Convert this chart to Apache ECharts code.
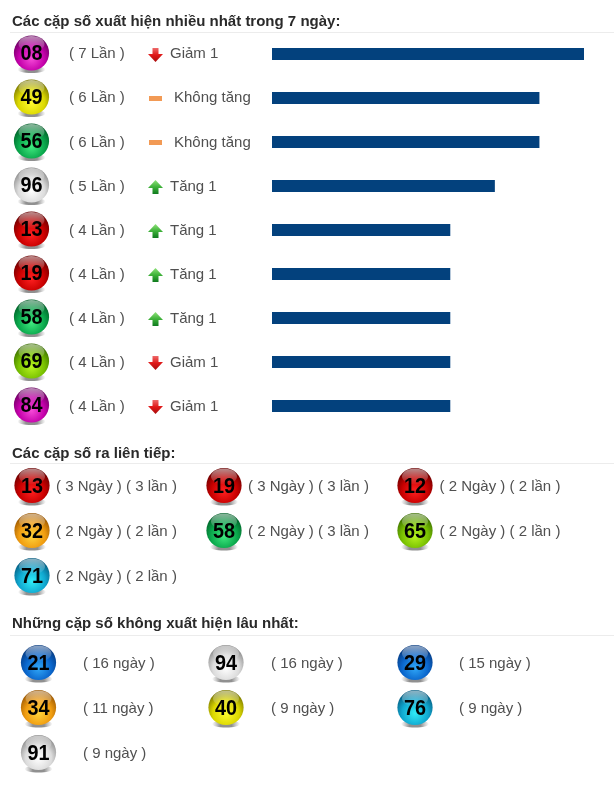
<!DOCTYPE html>
<html>
<head>
<meta charset="utf-8">
<style>html,body{margin:0;padding:0;background:#fff}#c{width:614px;height:787px}</style>
<script src="https://cdn.jsdelivr.net/npm/echarts@6/dist/echarts.min.js"></script>
</head>
<body>
<div id="c"></div>
<script>
// ---- data ----
const headings = ['Các cặp số xuất hiện nhiều nhất trong 7 ngày:', 'Các cặp số ra liên tiếp:', 'Những cặp số không xuất hiện lâu nhất:'];
const topNumbers = ['08','49','56','96','13','19','58','69','84'];
const topCounts = [7,6,6,5,4,4,4,4,4];
const topTrends = ['down','flat','flat','up','up','up','up','down','down'];
const trendLabels = {down:'Giảm 1', flat:'Không tăng', up:'Tăng 1'};
const streakNumbers = ['13','19','12','32','58','65','71'];
const streakDays = [3,3,2,2,2,2,2];
const streakTimes = [3,3,2,2,3,2,2];
const absentNumbers = ['21','94','29','34','40','76','91'];
const absentDays = [16,16,15,11,9,9,9];

// ---- styles ----
const palette = {
  0:['#6a0060','#c400aa','#f64ad8'], 8:['#6a0060','#c400aa','#f64ad8'],
  1:['#6a0000','#c80000','#ff2020'], 2:['#063a80','#0a66cc','#30a8f8'],
  3:['#9a5600','#f09c10','#ffd43c'], 4:['#7a7800','#dcd800','#fffb30'],
  5:['#006028','#0aa84c','#40ea80'], 6:['#3c7000','#78c000','#b8f420'],
  7:['#065c80','#10a8d0','#30ecf8'], 9:['#8c8c8c','#dcdcdc','#ffffff']
};
const g = [];
function text(t, x, y, font, fill) {
  g.push({type:'text', z:5, style:{text:t, x, y, font, fill, textVerticalAlign:'middle'}});
}
function ball(n, cx, cy) {
  const p = palette[n[0]];
  g.push({type:'ellipse', z:2, shape:{cx, cy:cy+16.5, rx:14, ry:3.5},
    style:{fill:{type:'linear',x:0,y:0,x2:1,y2:0,colorStops:[{offset:0,color:'rgba(90,90,90,0)'},{offset:.3,color:'rgba(70,70,70,.6)'},{offset:.7,color:'rgba(70,70,70,.6)'},{offset:1,color:'rgba(90,90,90,0)'}]}}});
  g.push({type:'circle', z:3, shape:{cx, cy, r:17.6},
    style:{fill:{type:'radial',x:.5,y:.66,r:.68,colorStops:[{offset:0,color:p[2]},{offset:.55,color:p[1]},{offset:.92,color:p[0]},{offset:1,color:p[0]}]}}});
  g.push({type:'ellipse', z:4, shape:{cx, cy:cy-9, rx:13, ry:8},
    style:{fill:{type:'linear',x:0,y:0,x2:0,y2:1,colorStops:[{offset:0,color:'rgba(255,255,255,.55)'},{offset:1,color:'rgba(255,255,255,.02)'}]}}});
  g.push({type:'text', z:6, x:cx, y:cy+1, scaleX:.9, style:{text:n, x:0, y:0, font:'bold 22px "Liberation Sans"', fill:'#000', align:'center', verticalAlign:'middle'}});
}
function arrow(kind, cx, cy) {
  if (kind === 'flat') {
    g.push({type:'rect', z:3, shape:{x:cx-6.5, y:cy-2, width:13, height:5}, style:{fill:'#f29a55'}});
  } else {
    const s = kind === 'up' ? -1 : 1;
    g.push({type:'polygon', z:3, shape:{points:[[cx-3,cy-7*s],[cx+3,cy-7*s],[cx+3,cy-1*s],[cx+7.5,cy-1*s],[cx,cy+7*s],[cx-7.5,cy-1*s],[cx-3,cy-1*s]]},
      style:{fill:{type:'linear',x:0,y:0,x2:0,y2:1,colorStops: kind==='up'
        ? [{offset:0,color:'#8fe27a'},{offset:.5,color:'#3fb23a'},{offset:1,color:'#0f7a1e'}]
        : [{offset:0,color:'#ee6a6a'},{offset:.5,color:'#e01818'},{offset:1,color:'#a80c0c'}]}}});
  }
}
const bodyFont = '15px "Liberation Sans"', bodyColor = '#505050';
const headFont = 'bold 15px "Liberation Sans"', headColor = '#2a2a2a';

// headings
[[22,32],[454,463],[624,635]].forEach((p,i)=>{
  text(headings[i], 12, p[0], headFont, headColor);
  g.push({type:'line', z:1, shape:{x1:10,y1:p[1]+.5,x2:614,y2:p[1]+.5}, style:{stroke:'#ececec',lineWidth:1}});
});
// top list
topNumbers.forEach((n,i)=>{
  const y = 54 + 44*i;
  ball(n, 31.5, y-1);
  text('( '+topCounts[i]+' Lần )', 69, y + (i>=2?1:0), bodyFont, bodyColor);
  arrow(topTrends[i], 155.5, y + (topTrends[i]==='flat'?0:1));
  text(trendLabels[topTrends[i]], topTrends[i]==='flat'?174:170, y + (i>=2?1:0), bodyFont, bodyColor);
});
// streaks
const sx = [32,224,415], tx = [56,248,439.5];
streakNumbers.forEach((n,i)=>{
  const c = i%3, r = Math.floor(i/3), y = 485.5 + 45*r;
  ball(n, sx[c], y);
  text('( '+streakDays[i]+' Ngày ) ( '+streakTimes[i]+' lần )', tx[c], y+1, bodyFont, bodyColor);
});
// absent
const ax = [38.5,226,415], atx = [83,271,459];
absentNumbers.forEach((n,i)=>{
  const c = i%3, r = Math.floor(i/3), y = 662.5 + 45*r;
  ball(n, ax[c], y);
  text('( '+absentDays[i]+' ngày )', atx[c], y+1.5, bodyFont, bodyColor);
});

const chart = echarts.init(document.getElementById('c'), null, {renderer:'canvas'});
chart.setOption({
  animation:false,
  backgroundColor:'#fff',
  grid:{left:272, top:32, width:312, height:396},
  xAxis:{type:'value', min:0, max:7, show:false},
  yAxis:{type:'category', inverse:true, data:topNumbers, show:false},
  series:[{type:'bar', data:topCounts, barWidth:12, itemStyle:{color:'#03417d'}, silent:true}],
  graphic:{elements:g}
});
</script>
</body>
</html>
